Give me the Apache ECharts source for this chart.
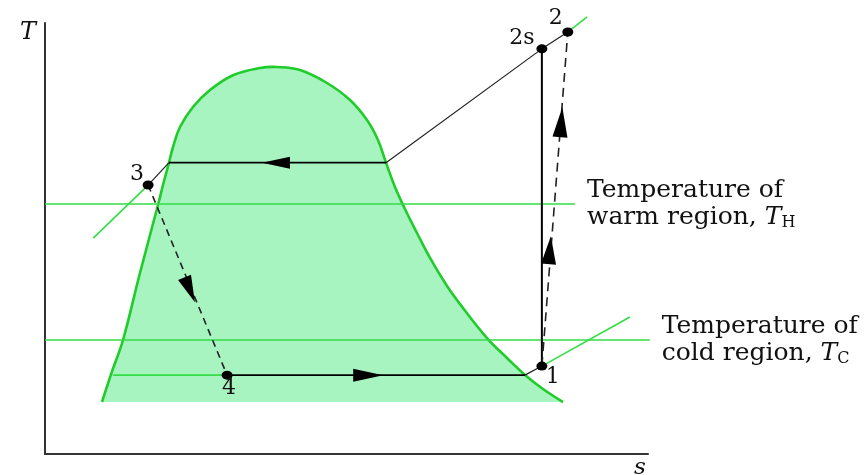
<!DOCTYPE html>
<html>
<head>
<meta charset="utf-8">
<script src="https://cdn.jsdelivr.net/npm/echarts@6/dist/echarts.min.js"></script>
<style>html,body{margin:0;padding:0;background:#fff}#c{width:865px;height:475px}</style>
</head>
<body>
<div id="c"></div>
<script>
// ---- data (entropy s, temperature T, arbitrary units 0..100) ----
const domeS = [9.45, 11.2, 12.94, 15.75, 18.74, 19.57, 20.56, 21.23, 22.39, 24.54, 27.36, 31.18, 35.66, 38.47, 42.29, 46.77, 50.58, 53.40, 55.22, 56.55, 58.04, 59.70, 61.69, 63.85, 66.67, 69.32, 73.3, 76.62, 79.6, 82.59, 85.9];
const domeT = [12.06, 19.5, 26.45, 42.0, 57.77, 62.41, 67.6, 71.23, 75.87, 80.51, 84.45, 87.89, 89.56, 89.79, 89.1, 86.08, 82.13, 77.49, 72.85, 67.6, 61.95, 56.84, 51.28, 45.48, 38.98, 33.87, 26.91, 22.27, 18.33, 15.08, 12.06];
const domeBaseT = 12.06;

const pointNames = ['1', '2s', '2', '3', '4'];
const pointS = [82.4, 82.4, 86.7, 17.1, 30.2];
const pointT = [20.4, 94.0, 97.9, 62.4, 18.3];

// high-pressure isobar: ext, 3, sat. liquid, sat. vapour, 2s, 2, ext
const highIsobarS = [8.0, 17.1, 20.56, 56.55, 82.4, 86.7, 89.9];
const highIsobarT = [50.1, 62.4, 67.6, 67.6, 94.0, 97.9, 101.4];
// low-pressure isobar: ext, 4, sat. vapour, 1, ext
const lowIsobarS = [11.3, 30.2, 79.6, 82.4, 97.0];
const lowIsobarT = [18.3, 18.3, 18.3, 20.4, 31.8];

const warmRegionT = 58.0;
const coldRegionT = 26.45;
const warmLineS = [0, 87.9];
const coldLineS = [0, 100.3];
const regionLabels = ['Temperature of\nwarm region, {it|T}{sub|H}', 'Temperature of\ncold region, {it|T}{sub|C}'];

// flow-direction arrows on the cycle
const arrowS = [38.3, 53.6, 24.0, 83.7, 85.6];
const arrowT = [67.6, 18.3, 38.1, 47.3, 77.0];

// ---- styles ----
const GREEN = '#1fcc2a';
const GREEN_LINE = '#33dd44';
const FILL = '#a8f4c1';
const INK = '#000000';
const TEXT = '#111111';
const SERIF = '"DejaVu Serif", "Liberation Serif", serif';
const arrowRot = [90, -90, 202.6, -4.5, -4.5];
const arrowSize = [[12, 28], [13, 30], [14, 27], [15, 28], [15, 30]];
const labelOffset = { '1': [11, 11], '2s': [-20, -11], '2': [-12, -14], '3': [-11, -11], '4': [2, 13] };

function pts(sArr, tArr, from, to) {
  const out = [];
  for (let i = from; i <= to; i++) out.push([sArr[i], tArr[i]]);
  return out;
}
function lineSeries(data, color, width, type) {
  return {
    type: 'line', data: data, symbol: 'none', clip: false, silent: true,
    lineStyle: { color: color, width: width, type: type || 'solid', opacity: 1 }, z: 3
  };
}
const regionText = {
  show: true, position: 'right', distance: 12, align: 'left', verticalAlign: 'middle',
  formatter: '{b}', fontFamily: SERIF, fontSize: 25, color: TEXT, lineHeight: 27,
  rich: {
    it: { fontFamily: SERIF, fontStyle: 'italic', fontSize: 25, color: TEXT, lineHeight: 27 },
    sub: { fontFamily: SERIF, fontSize: 16, color: TEXT, verticalAlign: 'bottom', lineHeight: 1 }
  }
};

const option = {
  animation: false,
  backgroundColor: '#fff',
  grid: { left: 45, top: 23, right: 217, bottom: 21, containLabel: false, outerBoundsMode: 'none' },
  xAxis: {
    type: 'value', min: 0, max: 100,
    name: 's', nameLocation: 'end', nameGap: -8,
    nameTextStyle: { fontFamily: SERIF, fontStyle: 'italic', fontSize: 23, color: TEXT, align: 'center', verticalAlign: 'top', padding: [3, 0, 0, 0] },
    axisLine: { lineStyle: { color: '#333', width: 2 } },
    axisTick: { show: false }, axisLabel: { show: false }, splitLine: { show: false }
  },
  yAxis: {
    type: 'value', min: 0, max: 100,
    name: 'T', nameLocation: 'end', nameGap: 2,
    nameTextStyle: { fontFamily: SERIF, fontStyle: 'italic', fontSize: 24, color: TEXT, align: 'right', verticalAlign: 'top', padding: [0, 9, 0, 0] },
    axisLine: { lineStyle: { color: '#333', width: 2 } },
    axisTick: { show: false }, axisLabel: { show: false }, splitLine: { show: false }
  },
  series: [
    {
      type: 'custom', silent: true, z: 1, clip: false,
      data: [[domeS[0], domeBaseT]],
      renderItem: function (params, api) {
        const curve = domeS.map((s, i) => api.coord([s, domeT[i]]));
        // open curve; the fill closes along the straight base of the dome
        return {
          type: 'polyline',
          shape: { points: curve, smooth: 0.4 },
          style: { fill: FILL, stroke: GREEN, lineWidth: 2.6 }
        };
      }
    },
    // warm / cold region temperature lines
    lineSeries([[warmLineS[0], warmRegionT], [warmLineS[1], warmRegionT]], GREEN_LINE, 1.6),
    lineSeries([[coldLineS[0], coldRegionT], [coldLineS[1], coldRegionT]], GREEN_LINE, 1.6),
    // their labels, anchored at the right end of each line
    {
      type: 'scatter', silent: true, symbolSize: 0, clip: false, z: 4,
      itemStyle: { opacity: 1 },
      label: regionText,
      data: [
        { name: regionLabels[0], value: [warmLineS[1], warmRegionT] },
        { name: regionLabels[1], value: [coldLineS[1], coldRegionT] }
      ]
    },
    // isobar extensions (green)
    lineSeries(pts(highIsobarS, highIsobarT, 0, 1), GREEN_LINE, 1.6),
    lineSeries(pts(highIsobarS, highIsobarT, 5, 6), GREEN_LINE, 1.6),
    lineSeries(pts(lowIsobarS, lowIsobarT, 0, 1), GREEN_LINE, 1.6),
    lineSeries(pts(lowIsobarS, lowIsobarT, 3, 4), GREEN_LINE, 1.6),
    // cycle (black)
    lineSeries(pts(highIsobarS, highIsobarT, 1, 2), '#222', 1.2),
    lineSeries(pts(highIsobarS, highIsobarT, 2, 3), INK, 1.8),
    lineSeries(pts(highIsobarS, highIsobarT, 3, 5), '#222', 1.2),
    lineSeries(pts(lowIsobarS, lowIsobarT, 1, 2), INK, 1.8),
    lineSeries(pts(lowIsobarS, lowIsobarT, 2, 3), '#222', 1.2),
    // isentropic compression 1 -> 2s
    lineSeries([[pointS[0], pointT[0]], [pointS[1], pointT[1]]], INK, 2),
    // actual compression 1 -> 2
    lineSeries([[pointS[0], pointT[0]], [pointS[2], pointT[2]]], '#222', 1.6, [9, 6]),
    // throttling 3 -> 4
    lineSeries([[pointS[3], pointT[3]], [pointS[4], pointT[4]]], '#222', 1.6, [7, 5]),
    // arrows
    {
      type: 'scatter', silent: true, z: 5,
      symbol: 'triangle',
      itemStyle: { color: INK, opacity: 1 },
      data: arrowS.map((s, i) => ({ value: [s, arrowT[i]], symbolRotate: arrowRot[i], symbolSize: arrowSize[i] }))
    },
    // state points
    {
      type: 'scatter', silent: true, z: 6,
      symbol: 'circle', symbolSize: [11, 9],
      itemStyle: { color: INK, opacity: 1 },
      label: { show: true, position: 'inside', formatter: '{b}', fontFamily: SERIF, fontSize: 22, color: TEXT },
      data: pointNames.map((n, i) => ({ name: n, value: [pointS[i], pointT[i]], label: { offset: labelOffset[n] } }))
    }
  ]
};

const chart = echarts.init(document.getElementById('c'), null, { renderer: 'canvas' });
chart.setOption(option);
</script>
</body>
</html>
